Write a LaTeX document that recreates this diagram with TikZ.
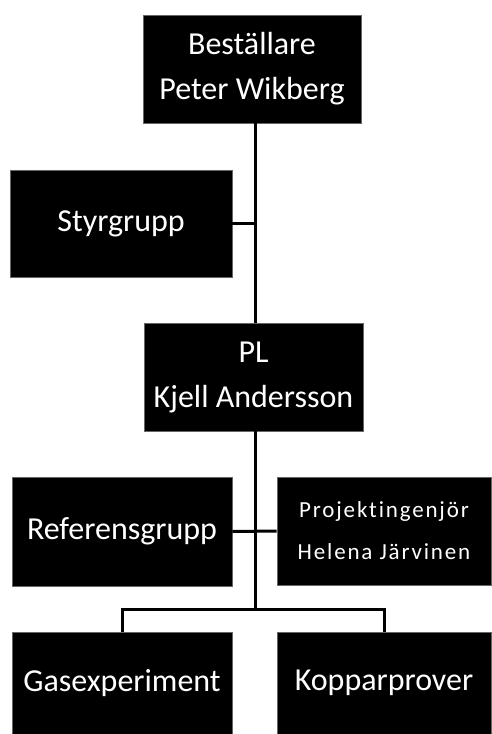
\documentclass[tikz,border=0pt]{standalone}
\usepackage{fontspec}
\setmainfont{Carlito}
\begin{document}
\begin{tikzpicture}[x=1pt,y=1pt,
  box/.style={fill=black, draw=black!60, line width=0.6pt, text=white, align=center, inner sep=0pt},
  big/.style={font=\fontsize{32}{45}\selectfont},
  small/.style={font=\fontsize{23}{42}\selectfont\addfontfeatures{LetterSpace=8,Ligatures=NoCommon}},
  conn/.style={draw=black, line width=3pt}]
\useasboundingbox (0,0) rectangle (491,-734);
\fill[white] (0,0) rectangle (491,-734);
\node[box,big,minimum width=218,minimum height=108] (a) at (252,-69) {Beställare\\Peter Wikberg};
\node[box,big,minimum width=222,minimum height=107] (s) at (121,-223.5) {Styrgrupp};
\node[box,big,minimum width=219,minimum height=108] (b) at (253.5,-377) {PL\\Kjell Andersson};
\node[box,big,minimum width=220,minimum height=109] (r) at (122,-531.5) {Referensgrupp};
\node[box,small,minimum width=214,minimum height=108] (p) at (384,-531) {Projektingenjör\\Helena Järvinen};
\node[box,big,minimum width=220,minimum height=102] (g) at (122,-683) {Gasexperiment};
\node[box,big,minimum width=214,minimum height=102] (k) at (384,-683) {Kopparprover};
\coordinate (sp) at (255,0);
\coordinate (bus) at (255,-609);
\draw[conn] (a.south -| sp) -- (b.north -| sp);
\draw[conn] (s.east) -- (s.east -| sp);
\draw[conn] (b.south -| sp) -- (bus);
\draw[conn] (r.east) -- (p.west);
\draw[conn] (g.north) |- (bus) -| (k.north);
\end{tikzpicture}
\end{document}
